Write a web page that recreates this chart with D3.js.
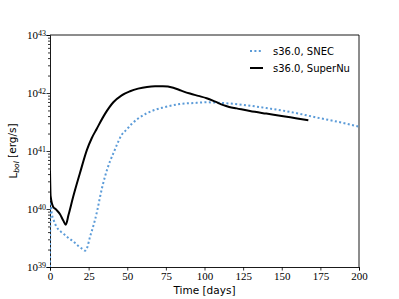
<!DOCTYPE html>
<html>
<head>
<meta charset="utf-8">
<script src="https://cdn.jsdelivr.net/npm/d3@7"></script>
<style>
  body { margin: 0; background: #fff; }
  svg text { fill: #000; }
</style>
</head>
<body>
<svg id="chart" width="399" height="299"></svg>
<script>
// values (time in days, log10 of L_bol in erg/s)
var snecDays = [0, 0.3, 1.1, 2.5, 4.3, 7, 9.7, 12, 15.1, 18, 21, 22.7, 24, 25.9, 27.5, 29.1, 30.8, 32.4, 34, 35.6, 38.8, 41, 43.5, 46.4, 49.6, 53, 57, 62.6, 68, 73.3, 84.1, 94.9, 101, 110, 120, 130, 140, 150, 161.8, 172, 183.4, 192, 200];
var snecLogL = [39.0, 40.2, 39.93, 39.8, 39.69, 39.61, 39.55, 39.5, 39.44, 39.37, 39.31, 39.28, 39.33, 39.52, 39.66, 39.81, 40.0, 40.21, 40.4, 40.56, 40.82, 40.96, 41.12, 41.28, 41.37, 41.47, 41.56, 41.65, 41.71, 41.75, 41.81, 41.83, 41.84, 41.83, 41.81, 41.78, 41.74, 41.70, 41.64, 41.58, 41.52, 41.47, 41.42];

var supernuDays = [0, 0.4, 2, 4, 6.5, 8.6, 10.2, 12, 15, 19.4, 23.9, 27, 30.2, 35.6, 41, 46.4, 51.8, 57, 62.8, 68, 73.1, 79.8, 85, 90.6, 96, 101.4, 107, 112.2, 116, 120.8, 129.4, 140, 151, 160, 167.2];
var supernuLogL = [40.66, 40.22, 40.04, 39.99, 39.91, 39.8, 39.73, 39.9, 40.21, 40.62, 41.02, 41.22, 41.38, 41.64, 41.84, 41.96, 42.03, 42.075, 42.105, 42.115, 42.115, 42.09, 42.04, 41.99, 41.95, 41.91, 41.85, 41.79, 41.76, 41.735, 41.69, 41.645, 41.6, 41.56, 41.53];

var xTicks = [0, 25, 50, 75, 100, 125, 150, 175, 200];
var yDecades = [39, 40, 41, 42, 43];
var seriesNames = ["s36.0, SNEC", "s36.0, SuperNu"];

var svg = d3.select("#chart");
var mLeft = 50, mTop = 35, mRight = 359, mBottom = 267;

var x = d3.scaleLinear().domain([0, 200]).range([mLeft, mRight]);
var y = d3.scaleLog().domain([1e39, 1e43]).range([mBottom, mTop]);

var serif = "'Liberation Serif', 'DejaVu Serif', serif";
var sans = "'DejaVu Sans', 'Liberation Sans', sans-serif";

// axes
var xAxis = svg.append("g").attr("transform", "translate(0," + mBottom + ")")
  .call(d3.axisBottom(x).tickValues(xTicks).tickSize(3.5).tickPadding(2).tickFormat(d3.format("d")));
xAxis.selectAll("text").attr("font-family", serif).attr("font-size", 11);

var minor = [];
yDecades.slice(0, -1).forEach(function(e) {
  for (var k = 2; k <= 9; k++) minor.push(k * Math.pow(10, e));
});
svg.append("g").attr("transform", "translate(" + mLeft + ",0)")
  .call(d3.axisLeft(y).tickValues(minor).tickSize(2).tickFormat(""))
  .select(".domain").remove();

var yAxis = svg.append("g").attr("transform", "translate(" + mLeft + ",0)")
  .call(d3.axisLeft(y).tickValues(yDecades.map(function(e) { return Math.pow(10, e); }))
    .tickSize(3.5).tickFormat(""));
yAxis.selectAll(".tick").each(function(d) {
  var t = d3.select(this).append("text")
    .attr("x", -4).attr("dy", "0.35em")
    .attr("text-anchor", "end")
    .attr("font-family", serif).attr("font-size", 11).attr("fill", "#000");
  t.append("tspan").text("10");
  t.append("tspan").attr("dy", "-0.45em").attr("font-size", 8).text(Math.round(Math.log10(d)));
});

svg.selectAll(".domain").attr("stroke", "#000").attr("stroke-width", 0.9);
svg.selectAll(".tick line").attr("stroke", "#000").attr("stroke-width", 0.8);

// top and right spines
svg.append("line").attr("x1", mLeft).attr("x2", mRight).attr("y1", mTop).attr("y2", mTop)
  .attr("stroke", "#000").attr("stroke-width", 0.9);
svg.append("line").attr("x1", mRight).attr("x2", mRight).attr("y1", mTop).attr("y2", mBottom)
  .attr("stroke", "#000").attr("stroke-width", 0.9);

// curves
var line = d3.line()
  .x(function(d) { return x(d[0]); })
  .y(function(d) { return y(Math.pow(10, d[1])); })
  .curve(d3.curveMonotoneX);

svg.append("clipPath").attr("id", "plotclip")
  .append("rect").attr("x", mLeft).attr("y", mTop).attr("width", mRight - mLeft).attr("height", mBottom - mTop);

svg.append("path")
  .datum(snecDays.map(function(t, i) { return [t, snecLogL[i]]; }))
  .attr("d", line).attr("clip-path", "url(#plotclip)")
  .attr("fill", "none").attr("stroke", "#5b9bd8").attr("stroke-width", 2)
  .attr("stroke-dasharray", "2,2.4");

svg.append("path")
  .datum(supernuDays.map(function(t, i) { return [t, supernuLogL[i]]; }))
  .attr("d", line).attr("clip-path", "url(#plotclip)")
  .attr("fill", "none").attr("stroke", "#000").attr("stroke-width", 2);

// legend
var legend = svg.append("g");
[51, 68].forEach(function(ly, i) {
  legend.append("line").attr("x1", 250).attr("x2", 263).attr("y1", ly).attr("y2", ly)
    .attr("stroke", i === 0 ? "#5b9bd8" : "#000").attr("stroke-width", 2)
    .attr("stroke-dasharray", i === 0 ? "2,2.4" : null);
  legend.append("text").attr("x", 273).attr("y", ly).attr("dy", "0.35em")
    .attr("font-family", sans).attr("font-size", 10).text(seriesNames[i]);
});

// axis labels
svg.append("text").attr("x", (mLeft + mRight) / 2).attr("y", 294)
  .attr("text-anchor", "middle").attr("font-family", sans).attr("font-size", 10.5)
  .text("Time [days]");

var ylab = svg.append("text")
  .attr("transform", "translate(17," + ((mTop + mBottom) / 2) + ") rotate(-90)")
  .attr("text-anchor", "middle").attr("font-family", sans).attr("font-size", 10.5);
ylab.append("tspan").text("L");
ylab.append("tspan").attr("dy", "0.3em").attr("font-size", 7.5).attr("font-style", "italic").text("bol");
ylab.append("tspan").attr("dy", "-0.3em").text(" [erg/s]");
</script>
</body>
</html>
